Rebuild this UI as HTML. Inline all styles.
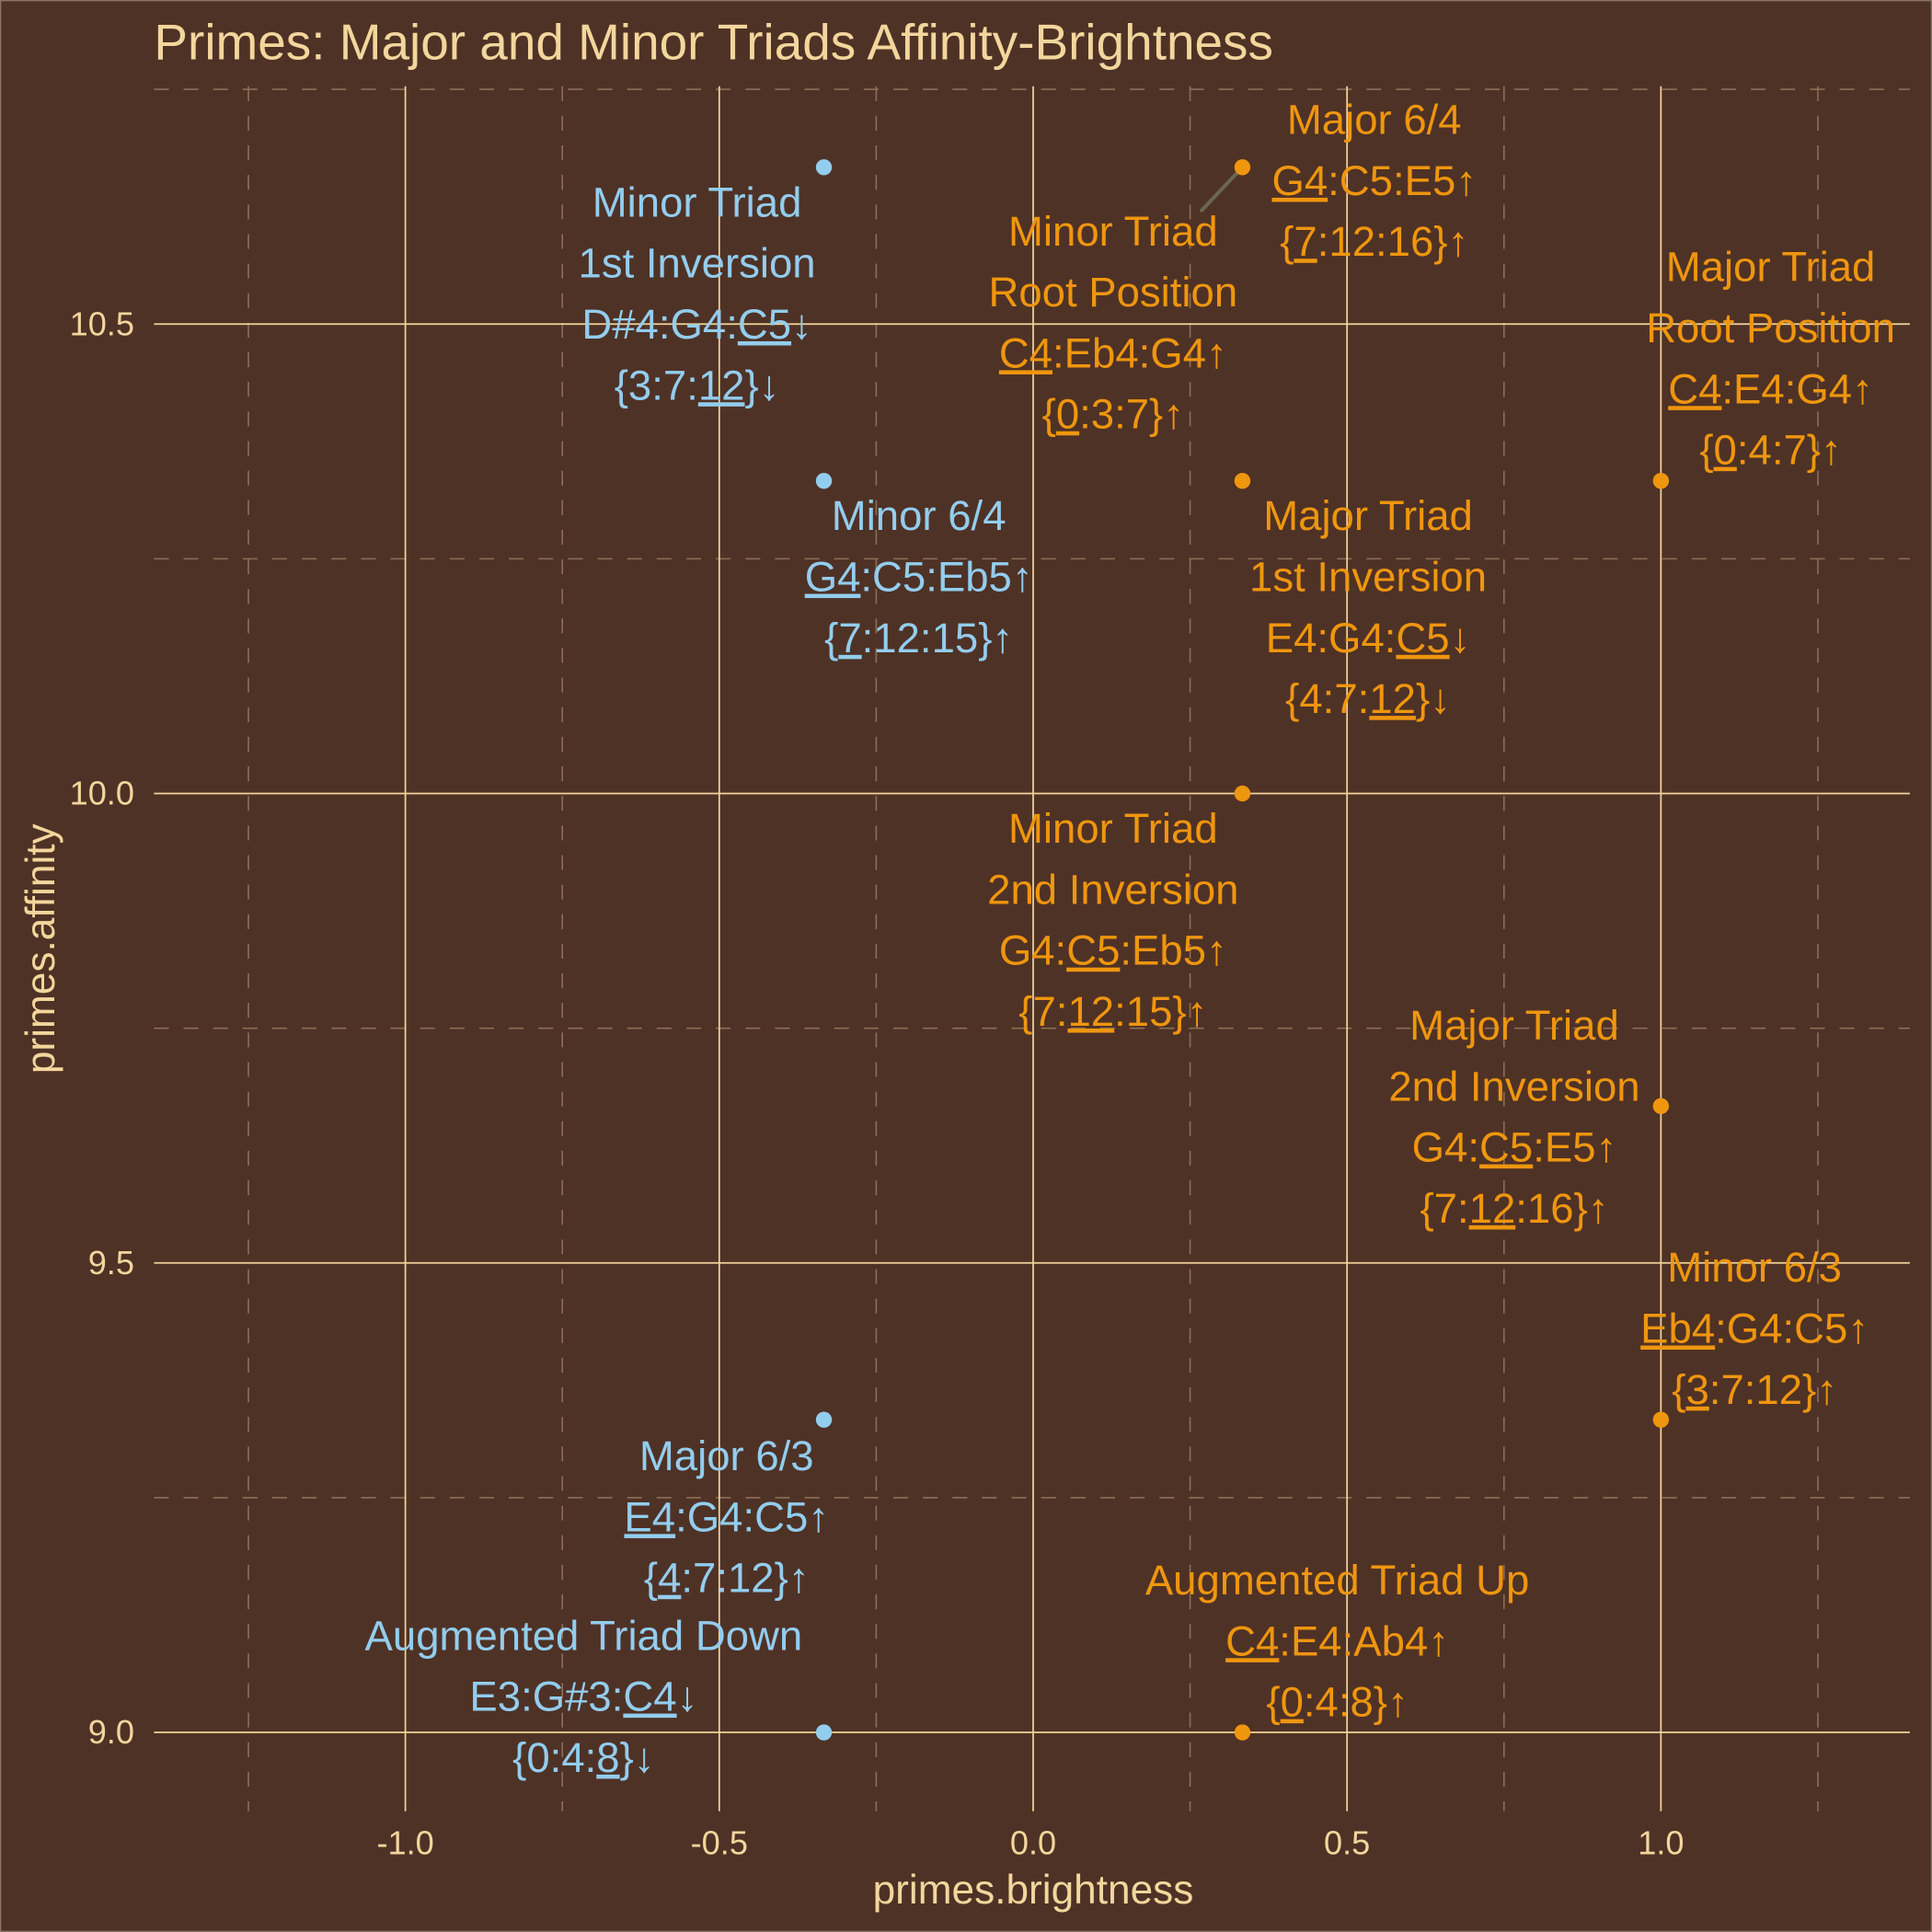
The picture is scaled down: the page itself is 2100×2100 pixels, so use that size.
<!DOCTYPE html>
<html><head><meta charset="utf-8"><style>
html,body{margin:0;padding:0;background:#4f3226;}
svg{display:block;}
text{font-family:"Liberation Sans","DejaVu Sans",sans-serif;}
</style></head><body>
<svg id="chart" width="2100" height="2100" viewBox="0 0 1568 1568" xmlns="http://www.w3.org/2000/svg">
<rect x="0" y="0" width="1568" height="1568" fill="#4f3226" stroke="#8a7466" stroke-width="2"/>
<g id="grid"></g>
<g id="marks"></g>
<g id="labels"></g>
<text x="125" y="48" font-size="41" fill="#f3d69c">Primes: Major and Minor Triads Affinity-Brightness</text>
<text x="838.5" y="1545" font-size="33" fill="#f3d69c" text-anchor="middle">primes.brightness</text>
<text transform="translate(44,770) rotate(-90)" font-size="33" fill="#f3d69c" text-anchor="middle">primes.affinity</text>
</svg>
<script>
const xTicks = [-1.0, -0.5, 0.0, 0.5, 1.0];
const xTickLabels = ["-1.0", "-0.5", "0.0", "0.5", "1.0"];
const xMinor = [-1.25, -0.75, -0.25, 0.25, 0.75, 1.25];
const yTicks = [9.0, 9.5, 10.0, 10.5];
const yTickLabels = ["9.0", "9.5", "10.0", "10.5"];
const yMinor = [9.25, 9.75, 10.25, 10.75];
const brightness = [-1/3, -1/3, -1/3, -1/3, 1/3, 1/3, 1/3, 1/3, 1, 1, 1];
const affinity = [10.667, 10.333, 9.333, 9.0, 10.667, 10.333, 10.0, 9.0, 10.333, 9.667, 9.333];
const group = ["down", "down", "down", "down", "up", "up", "up", "up", "up", "up", "up"];
const labelPoint = [0, 1, 2, 3, 4, 5, 8, 5, 6, 9, 10, 7];
const labelLines = [
 [[["Minor Triad",0]],[["1st Inversion",0]],[["D#4:G4:",0],["C5",1],["↓",0]],[["{3:7:",0],["12",1],["}↓",0]]],
 [[["Minor 6/4",0]],[["G4",1],[":C5:Eb5↑",0]],[["{",0],["7",1],[":12:15}↑",0]]],
 [[["Major 6/3",0]],[["E4",1],[":G4:C5↑",0]],[["{",0],["4",1],[":7:12}↑",0]]],
 [[["Augmented Triad Down",0]],[["E3:G#3:",0],["C4",1],["↓",0]],[["{0:4:",0],["8",1],["}↓",0]]],
 [[["Major 6/4",0]],[["G4",1],[":C5:E5↑",0]],[["{",0],["7",1],[":12:16}↑",0]]],
 [[["Minor Triad",0]],[["Root Position",0]],[["C4",1],[":Eb4:G4↑",0]],[["{",0],["0",1],[":3:7}↑",0]]],
 [[["Major Triad",0]],[["Root Position",0]],[["C4",1],[":E4:G4↑",0]],[["{",0],["0",1],[":4:7}↑",0]]],
 [[["Major Triad",0]],[["1st Inversion",0]],[["E4:G4:",0],["C5",1],["↓",0]],[["{4:7:",0],["12",1],["}↓",0]]],
 [[["Minor Triad",0]],[["2nd Inversion",0]],[["G4:",0],["C5",1],[":Eb5↑",0]],[["{7:",0],["12",1],[":15}↑",0]]],
 [[["Major Triad",0]],[["2nd Inversion",0]],[["G4:",0],["C5",1],[":E5↑",0]],[["{7:",0],["12",1],[":16}↑",0]]],
 [[["Minor 6/3",0]],[["Eb4",1],[":G4:C5↑",0]],[["{",0],["3",1],[":7:12}↑",0]]],
 [[["Augmented Triad Up",0]],[["C4",1],[":E4:Ab4↑",0]],[["{",0],["0",1],[":4:8}↑",0]]]
];
const labelDx = [-103, 77, -79, -195, 107, -105, 89, 102, -105, -119, 76, 77];
const labelDy = [28, 28, 29, -79, -39, -203, -174, 28, 28, -66, -124, -124];

const NS = "http://www.w3.org/2000/svg";
const X0 = 125, X1 = 1550, Y0 = 70, Y1 = 1470;
function xs(v){ return 838.5 + v * 509.5; }
function ys(v){ return 644 - (v - 10) * 762; }
const cream = "#f3d69c", blue = "#93cdee", orange = "#ef960f";
function mk(tag, attrs, parent){ const e = document.createElementNS(NS, tag); for (const k in attrs) e.setAttribute(k, attrs[k]); parent.appendChild(e); return e; }
const grid = document.getElementById("grid");
xMinor.forEach(v => {
  const l = mk("line", {x1: xs(v), x2: xs(v), y1: Y0, y2: Y1, stroke: "#8c6f58", "stroke-width": 1.2, "stroke-dasharray": "12,12"}, grid);
  
  
});
yMinor.forEach(v => {
  const l = mk("line", {x1: X0, x2: X1, y1: ys(v), y2: ys(v), stroke: "#8c6f58", "stroke-width": 1.2, "stroke-dasharray": "12,12"}, grid);
  
  
});
xTicks.forEach((v, i) => {
  const l = mk("line", {x1: xs(v), x2: xs(v), y1: Y0, y2: Y1, stroke: "#f0d49a", "stroke-width": 1.3}, grid);
  
  
  const t = mk("text", {x: xs(v), y: 1505, "font-size": 27, fill: cream, "text-anchor": "middle"}, grid);
  t.textContent = xTickLabels[i];
  
  
});
yTicks.forEach((v, i) => {
  const l = mk("line", {x1: X0, x2: X1, y1: ys(v), y2: ys(v), stroke: "#f0d49a", "stroke-width": 1.3}, grid);
  
  
  const t = mk("text", {x: 109, y: ys(v) + 9, "font-size": 27, fill: cream, "text-anchor": "end"}, grid);
  t.textContent = yTickLabels[i];
  
  
});
const marks = document.getElementById("marks");
const seg = mk("line", {x1: xs(brightness[4]), y1: ys(affinity[4]), x2: xs(brightness[4]) - 33, y2: ys(affinity[4]) + 35, stroke: "#6b6650", "stroke-width": 3, "stroke-linecap": "round"}, marks);


brightness.forEach((b, i) => {
  const c = mk("circle", {cx: xs(b), cy: ys(affinity[i]), r: 6.5, fill: group[i] === "down" ? blue : orange}, marks);
  
  
});
const labels = document.getElementById("labels");
labelLines.forEach((lines, k) => {
  const p = labelPoint[k];
  const cx = xs(brightness[p]) + labelDx[k];
  const cy0 = ys(affinity[p]) + labelDy[k];
  const col = group[p] === "down" ? blue : orange;
  const g = mk("g", {}, labels);
  
  
  lines.forEach((segs, j) => {
    const t = mk("text", {x: cx, y: cy0 + j * 49.5 + 12, "font-size": 34, fill: col, "text-anchor": "middle"}, g);
    segs.forEach(s => {
      const ts = mk("tspan", s[1] ? {"text-decoration": "underline"} : {}, t);
      ts.textContent = s[0];
    });
    
    
  });
});
</script>
</body></html>
